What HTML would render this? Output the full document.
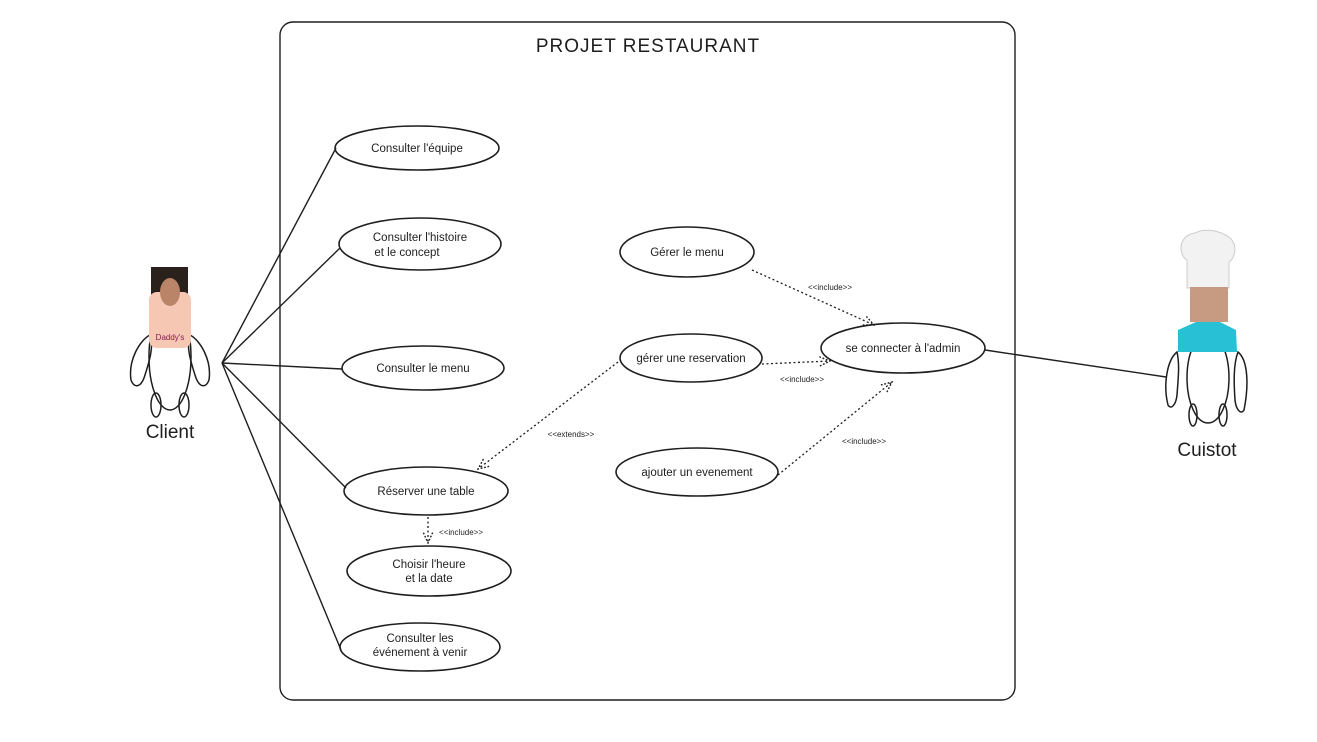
<!DOCTYPE html>
<html><head><meta charset="utf-8"><style>
html,body{margin:0;padding:0;background:#fff;}
svg{display:block}
text{font-family:"Liberation Sans",sans-serif;fill:#1e1e1e}
</style></head><body>
<svg width="1317" height="742" viewBox="0 0 1317 742" xmlns="http://www.w3.org/2000/svg">
<defs>
<marker id="ah" viewBox="0 0 10 10" refX="9" refY="5" markerWidth="9" markerHeight="9" orient="auto-start-reverse">
<path d="M0,1 L9,5 L0,9" fill="none" stroke="#1e1e1e" stroke-width="1.2" stroke-dasharray="1.5 1.5"/>
</marker>
</defs>
<rect x="280" y="22" width="735" height="678" rx="13" fill="none" stroke="#1e1e1e" stroke-width="1.4"/>
<text x="648" y="52" font-size="19" text-anchor="middle" letter-spacing="1">PROJET RESTAURANT</text>

<g fill="none" stroke="#1e1e1e" stroke-width="1.6">
<ellipse cx="417" cy="148" rx="82" ry="22"/>
<ellipse cx="420" cy="244" rx="81" ry="26"/>
<ellipse cx="423" cy="368" rx="81" ry="22"/>
<ellipse cx="426" cy="491" rx="82" ry="24"/>
<ellipse cx="429" cy="571" rx="82" ry="25"/>
<ellipse cx="420" cy="647" rx="80" ry="24"/>
<ellipse cx="687" cy="252" rx="67" ry="25"/>
<ellipse cx="691" cy="358" rx="71" ry="24"/>
<ellipse cx="697" cy="472" rx="81" ry="24"/>
<ellipse cx="903" cy="348" rx="82" ry="25"/>
</g>
<g font-size="11.5" text-anchor="middle">
<text x="417" y="152">Consulter l'équipe</text>
<text x="420" y="241">Consulter l'histoire</text>
<text x="407" y="256">et le concept</text>
<text x="423" y="372">Consulter le menu</text>
<text x="426" y="495">Réserver une table</text>
<text x="429" y="568">Choisir l'heure</text>
<text x="429" y="582">et la date</text>
<text x="420" y="642">Consulter les</text>
<text x="420" y="656">événement à venir</text>
<text x="687" y="256">Gérer le menu</text>
<text x="691" y="362">gérer une reservation</text>
<text x="697" y="476">ajouter un evenement</text>
<text x="903" y="352">se connecter à l'admin</text>
</g>

<g stroke="#1e1e1e" stroke-width="1.4" fill="none">
<line x1="222" y1="363" x2="336" y2="148"/>
<line x1="222" y1="363" x2="340" y2="248"/>
<line x1="222" y1="363" x2="342" y2="369"/>
<line x1="222" y1="363" x2="346" y2="488"/>
<line x1="222" y1="363" x2="341" y2="650"/>
<line x1="985" y1="350" x2="1166" y2="377"/>
</g>
<g stroke="#1e1e1e" stroke-width="1.3" fill="none" stroke-dasharray="2 2.5" >
<line x1="752" y1="270" x2="874" y2="325" marker-end="url(#ah)"/>
<line x1="762" y1="364" x2="830" y2="361" marker-end="url(#ah)"/>
<line x1="778" y1="475" x2="892" y2="382" marker-end="url(#ah)"/>
<line x1="618" y1="362" x2="478" y2="469" marker-end="url(#ah)"/>
<line x1="428" y1="517" x2="428" y2="543" marker-end="url(#ah)"/>
</g>
<g font-size="8" text-anchor="middle">
<text x="830" y="290">&lt;&lt;include&gt;&gt;</text>
<text x="802" y="382">&lt;&lt;include&gt;&gt;</text>
<text x="864" y="444">&lt;&lt;include&gt;&gt;</text>
<text x="571" y="437">&lt;&lt;extends&gt;&gt;</text>
<text x="461" y="535">&lt;&lt;include&gt;&gt;</text>
</g>

<!-- Client -->
<g stroke="#1e1e1e" stroke-width="1.5" fill="none">
<path d="M150,335 C140,340 128,360 131,380 C134,388 140,388 144,378 C150,360 154,345 150,335Z"/>
<path d="M190,335 C200,340 212,360 209,380 C206,388 200,388 196,378 C190,360 186,345 190,335Z"/>
<ellipse cx="170" cy="357" rx="21" ry="53"/>
<ellipse cx="156" cy="405" rx="5" ry="12"/>
<ellipse cx="184" cy="405" rx="5" ry="12"/>
</g>
<rect x="151" y="267" width="37" height="30" fill="#2a211c"/>
<rect x="149" y="292" width="42" height="56" rx="8" fill="#f6c7b2"/>
<ellipse cx="170" cy="292" rx="10" ry="14" fill="#b98468"/>
<text x="170" y="340" font-size="8" fill="#8a1a5a" text-anchor="middle" style="fill:#8a1a5a">Daddy's</text>
<text x="170" y="438" font-size="19" text-anchor="middle">Client</text>

<!-- Cuistot -->
<g stroke="#1e1e1e" stroke-width="1.5" fill="none">
<path d="M1177,352 C1167,360 1163,385 1168,405 C1171,410 1176,405 1177,395 C1178,380 1180,365 1177,352Z"/>
<path d="M1238,352 C1248,360 1249,385 1244,410 C1241,415 1236,410 1235,400 C1234,385 1233,365 1238,352Z"/>
<ellipse cx="1208" cy="378" rx="21" ry="45"/>
<ellipse cx="1193" cy="415" rx="4" ry="11"/>
<ellipse cx="1223" cy="415" rx="4" ry="11"/>
</g>
<path d="M1187,288 L1187,260 C1178,255 1178,235 1195,233 C1205,228 1220,230 1230,238 C1238,245 1235,258 1229,262 L1229,288Z" fill="#f2f2f2" stroke="#ccc" stroke-width="1"/>
<rect x="1190" y="287" width="38" height="35" fill="#c79a82"/>
<path d="M1178,330 L1196,322 L1220,322 L1236,330 L1237,352 L1178,352Z" fill="#28c0d4"/>
<text x="1207" y="456" font-size="19" text-anchor="middle">Cuistot</text>
</svg>
</body></html>
